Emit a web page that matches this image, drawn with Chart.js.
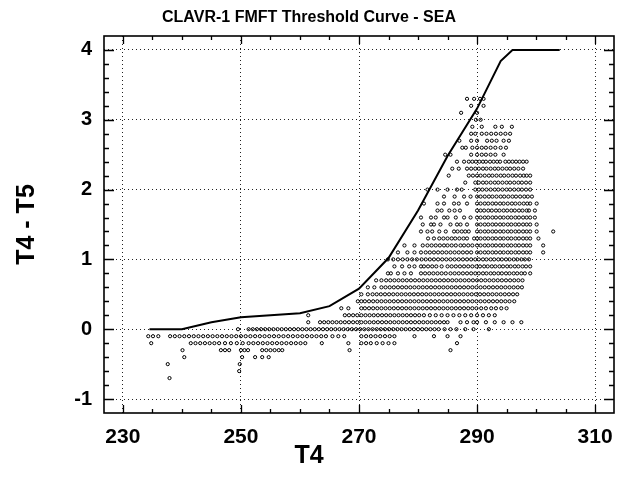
<!DOCTYPE html>
<html>
<head>
<meta charset="utf-8">
<script src="https://cdn.jsdelivr.net/npm/chart.js@4/dist/chart.umd.min.js"></script>
<style>
  html, body { margin: 0; padding: 0; background: #fff; }
  #c { display: block; }
</style>
</head>
<body>
<canvas id="c" width="619" height="493"></canvas>
<script>
// ---- Data ----
const titleText = "CLAVR-1 FMFT Threshold Curve - SEA";
const xTitle = "T4";
const yTitle = "T4 - T5";
const xTicks = [230, 250, 270, 290, 310];
const yTicks = [-1, 0, 1, 2, 3, 4];

// Threshold curve (T4, T4-T5)
const curveT4   = [234.5, 240, 245, 250, 255, 260, 265, 270, 275, 280, 285, 290, 294, 296, 304];
const curveDiff = [0, 0, 0.10, 0.17, 0.20, 0.23, 0.33, 0.58, 1.02, 1.70, 2.48, 3.16, 3.84, 4.0, 4.0];

// Scatter observations: T4-T5 levels (quantised at 0.1) and the T4 values seen on each level
const scatterLevels = [3.3, 3.2, 3.1, 3.0, 2.9, 2.8, 2.7, 2.6, 2.5, 2.4, 2.3, 2.2, 2.1, 2.0,
  1.9, 1.8, 1.7, 1.6, 1.5, 1.4, 1.3, 1.2, 1.1, 1.0, 0.9, 0.8, 0.7, 0.6, 0.5, 0.4, 0.3, 0.2, 0.1,
  0.0, -0.1, -0.2, -0.3, -0.4, -0.5, -0.6, -0.7];
const scatterT4 = [
  [288.3, 289.5, 290.5, 291.1],
  [289.0, 291.1],
  [287.3, 290.0],
  [289.8, 290.6],
  [289.2, 290.8, 293.1, 294.2, 295.9],
  [289.0, 289.7, 290.8, 291.6, 292.4, 293.2, 294.0, 294.8, 295.6],
  [287.0, 289.0, 290.0, 291.7, 292.5, 293.3, 294.5, 295.4],
  [287.5, 288.1, 289.2, 290.0, 290.8, 291.5, 292.3, 293.1, 294.0, 294.9],
  [284.6, 285.5, 289.0, 290.0, 290.8, 291.5, 292.3, 293.1, 294.5],
  [286.6, 287.8, 288.6, 289.2, 289.8, 290.4, 291.0, 291.5, 292.2, 292.8, 293.4, 293.9, 294.8, 295.4, 296.0, 296.6, 297.2, 297.8, 298.4],
  [285.8, 286.9, 288.3, 289.0, 289.7, 290.3, 291.0, 291.6, 292.3, 293.0, 293.6, 294.3, 295.0, 295.6, 296.3, 297.0, 297.8],
  [285.2, 288.6, 289.3, 290.0, 290.6, 291.3, 292.0, 292.6, 293.3, 294.0, 294.6, 295.3, 296.0, 296.6, 297.3, 297.9, 298.4, 299.0],
  [288.0, 289.7, 290.3, 291.0, 291.6, 292.3, 293.0, 293.6, 294.3, 295.0, 295.6, 296.3, 297.0, 297.6, 298.3, 299.0],
  [281.6, 283.3, 285.0, 286.6, 287.4, 289.7, 290.3, 290.9, 291.6, 292.3, 293.0, 293.6, 294.3, 295.0, 295.6, 296.3, 297.0, 297.6, 298.3, 299.0],
  [284.4, 286.2, 287.8, 288.9, 290.0, 290.6, 291.3, 292.0, 292.6, 293.3, 294.0, 294.6, 295.3, 296.0, 296.6, 297.3, 298.0, 298.6, 299.3],
  [281.0, 283.3, 284.4, 286.1, 286.9, 288.3, 290.0, 290.6, 291.3, 291.9, 292.6, 293.2, 293.9, 294.5, 295.2, 295.9, 296.5, 297.2, 297.9, 298.5, 299.0, 300.1],
  [283.3, 284.0, 285.3, 286.2, 287.1, 290.0, 290.6, 291.2, 291.9, 292.5, 293.2, 293.8, 294.5, 295.1, 295.8, 296.4, 297.1, 297.7, 298.4, 298.8, 299.8],
  [280.5, 282.2, 283.0, 284.4, 285.0, 286.4, 287.8, 288.9, 290.0, 290.6, 291.3, 291.9, 292.6, 293.2, 293.9, 294.5, 295.2, 295.8, 296.5, 297.1, 297.8, 298.4, 299.0, 299.8],
  [280.8, 282.2, 282.7, 283.8, 285.5, 286.6, 287.2, 288.3, 290.0, 290.6, 291.3, 291.9, 292.6, 293.2, 293.9, 294.5, 295.2, 295.8, 296.5, 297.1, 297.8, 298.4, 299.0, 300.1],
  [280.5, 281.6, 282.4, 283.6, 284.7, 286.1, 286.7, 287.4, 288.0, 288.6, 290.0, 290.6, 291.3, 291.9, 292.6, 293.2, 293.9, 294.5, 295.2, 295.8, 296.5, 297.1, 297.8, 298.4, 299.0, 300.1, 302.9],
  [281.7, 282.7, 283.6, 284.3, 285.0, 285.7, 286.3, 287.0, 287.7, 288.3, 289.5, 290.0, 290.6, 291.3, 291.9, 292.6, 293.2, 293.9, 294.5, 295.2, 295.8, 296.5, 297.1, 297.8, 298.4, 299.0, 300.4],
  [277.7, 279.4, 280.8, 281.6, 282.3, 283.0, 283.7, 284.4, 285.0, 285.7, 286.4, 287.2, 287.8, 288.5, 289.2, 290.0, 290.6, 291.3, 291.9, 292.6, 293.2, 293.9, 294.5, 295.2, 295.8, 296.5, 297.1, 297.8, 298.4, 299.0, 301.2],
  [276.6, 278.2, 279.4, 280.5, 281.3, 282.0, 282.7, 283.4, 284.1, 284.8, 285.5, 286.2, 286.9, 287.6, 288.3, 289.0, 290.0, 290.6, 291.3, 291.9, 292.6, 293.2, 293.9, 294.5, 295.2, 295.8, 296.5, 297.1, 297.8, 298.4, 299.0, 301.2],
  [274.9, 275.8, 276.6, 277.4, 278.2, 279.0, 279.8, 280.6, 281.3, 282.0, 282.7, 283.4, 284.1, 284.8, 285.5, 286.2, 286.9, 287.6, 288.3, 289.0, 289.7, 290.3, 291.0, 291.6, 292.3, 292.9, 293.6, 294.2, 294.9, 295.5, 296.2, 296.8, 297.5, 298.1, 298.8],
  [276.0, 277.3, 278.5, 279.4, 280.5, 281.0, 281.7, 282.4, 283.1, 284.0, 285.0, 285.7, 286.4, 287.1, 287.8, 288.5, 289.2, 289.9, 290.5, 291.2, 291.8, 292.5, 293.1, 293.8, 294.4, 295.1, 295.7, 296.4, 297.0, 297.7, 298.3, 299.0],
  [274.9, 275.4, 276.6, 277.7, 278.8, 280.5, 281.2, 281.9, 282.6, 283.3, 284.0, 284.7, 285.5, 286.2, 286.9, 287.6, 288.3, 289.0, 289.7, 290.3, 291.0, 291.6, 292.3, 292.9, 293.6, 294.2, 294.9, 295.5, 296.2, 296.8, 297.5, 298.1, 299.0],
  [272.9, 273.8, 274.6, 275.3, 276.0, 276.7, 277.4, 278.1, 278.8, 279.5, 280.2, 280.9, 281.6, 282.3, 283.0, 283.7, 284.4, 285.1, 285.8, 286.5, 287.2, 287.9, 288.6, 289.3, 290.0, 290.7, 291.4, 292.1, 292.8, 293.5, 294.2, 294.9, 295.6, 296.3, 297.0, 297.7],
  [271.5, 272.6, 273.8, 274.5, 275.2, 275.9, 276.6, 277.3, 278.0, 278.7, 279.4, 280.1, 280.8, 281.5, 282.2, 282.9, 283.6, 284.3, 285.0, 285.7, 286.4, 287.1, 287.8, 288.5, 289.2, 289.9, 290.6, 291.3, 292.0, 292.7, 293.4, 294.1, 294.8, 295.5, 296.2, 296.9, 297.6],
  [270.4, 271.5, 272.3, 273.0, 273.7, 274.4, 275.1, 275.8, 276.5, 277.2, 277.9, 278.6, 279.3, 280.0, 280.7, 281.4, 282.1, 282.8, 283.5, 284.2, 284.9, 285.6, 286.3, 287.0, 287.7, 288.4, 289.1, 289.8, 290.5, 291.2, 291.9, 292.6, 293.3, 294.0, 294.7, 295.4, 296.1, 296.8],
  [269.8, 270.4, 271.0, 271.7, 272.4, 273.1, 273.8, 274.5, 275.2, 275.9, 276.6, 277.3, 278.0, 278.7, 279.4, 280.1, 280.8, 281.5, 282.2, 282.9, 283.6, 284.3, 285.0, 285.7, 286.4, 287.1, 287.8, 288.5, 289.2, 289.9, 290.6, 291.3, 292.0, 292.7, 293.4, 294.1, 294.8, 295.5, 296.3],
  [267.0, 268.2, 270.4, 271.0, 271.7, 272.4, 273.1, 273.8, 274.5, 275.2, 275.9, 276.6, 277.3, 278.0, 278.7, 279.4, 280.1, 280.8, 281.5, 282.2, 282.9, 283.6, 284.3, 285.0, 285.7, 286.4, 287.1, 287.8, 288.5, 289.2, 289.9, 290.7, 291.5, 292.4, 293.2, 294.1, 295.0],
  [261.4, 267.6, 268.3, 269.0, 269.7, 270.4, 271.1, 271.8, 272.5, 273.2, 273.9, 274.6, 275.3, 276.0, 276.7, 277.4, 278.1, 278.8, 279.5, 280.2, 281.0, 282.0, 283.0, 284.0, 285.0, 286.0, 287.0, 288.0, 289.0, 290.0, 291.0, 292.0, 293.0],
  [261.4, 263.4, 264.1, 264.8, 265.5, 266.2, 266.9, 267.6, 268.3, 269.0, 269.7, 270.4, 271.1, 271.8, 272.5, 273.2, 273.9, 274.6, 275.3, 276.0, 276.7, 277.4, 278.1, 278.8, 279.5, 280.2, 280.9, 281.6, 282.3, 283.0, 283.7, 284.4, 285.0, 287.2, 288.3, 289.4, 290.0, 291.5, 293.0, 294.5, 296.0, 297.5],
  [249.5, 251.3, 252.0, 252.7, 253.4, 254.1, 254.8, 255.5, 256.2, 256.9, 257.6, 258.3, 259.0, 259.7, 260.4, 261.1, 261.8, 262.5, 263.2, 263.9, 264.6, 265.3, 266.0, 266.7, 267.4, 268.1, 268.8, 269.5, 270.2, 270.9, 271.6, 272.3, 273.0, 273.7, 274.4, 275.1, 275.8, 276.5, 277.2, 277.9, 278.6, 279.3, 280.0, 280.7, 281.4, 282.1, 282.8, 283.5, 284.5, 285.5, 286.5, 288.0, 289.4, 292.0],
  [234.3, 235.1, 236.0, 238.0, 238.8, 239.6, 240.4, 241.2, 242.0, 242.8, 243.6, 244.4, 245.2, 246.0, 246.8, 247.6, 248.4, 249.2, 250.0, 250.8, 251.6, 252.4, 253.2, 254.0, 254.8, 255.6, 256.4, 257.2, 258.0, 258.8, 259.6, 260.4, 261.2, 262.0, 262.8, 263.6, 264.4, 265.5, 266.5, 267.5, 270.4, 271.2, 272.0, 272.8, 273.6, 274.4, 275.2, 276.0, 279.4, 282.7, 285.0, 287.2],
  [234.8, 241.5, 242.3, 243.1, 243.9, 244.7, 245.5, 246.3, 247.3, 248.3, 249.3, 250.3, 251.3, 252.1, 252.9, 253.7, 254.5, 255.3, 256.1, 256.9, 257.7, 258.5, 259.3, 260.1, 260.9, 263.7, 268.2, 270.4, 271.2, 272.0, 273.0, 274.0, 275.0, 276.0, 286.6],
  [240.1, 246.6, 247.3, 248.0, 250.0, 250.6, 251.2, 253.6, 254.3, 255.0, 255.7, 256.4, 257.0, 268.4, 285.5],
  [240.4, 250.2, 252.4, 253.6, 254.7],
  [237.6, 249.8],
  [249.7],
  [237.9]
];

// ---- Build chart ----
const scatterPoints = [];
scatterLevels.forEach((lev, i) => {
  scatterT4[i].forEach(t => scatterPoints.push({ x: t, y: lev }));
});
const curvePoints = curveT4.map((t, i) => ({ x: t, y: curveDiff[i] }));

const FONT = "'Liberation Sans', Arial, Helvetica, sans-serif";

const framePlugin = {
  id: 'frameTicks',
  afterDraw(chart) {
    const { ctx, chartArea: { left, right, top, bottom }, scales: { x, y } } = chart;
    ctx.save();
    ctx.strokeStyle = '#000';
    ctx.lineWidth = 1.6;
    ctx.strokeRect(left, top, right - left, bottom - top);
    ctx.lineWidth = 1.3;
    ctx.beginPath();
    for (let v = 230; v <= 310; v += 5) {
      const px = Math.round(x.getPixelForValue(v)) + 0.5;
      const len = (v % 20 === 10) ? 8 : 4;
      ctx.moveTo(px, bottom); ctx.lineTo(px, bottom - len);
      ctx.moveTo(px, top); ctx.lineTo(px, top + len);
    }
    for (let k = -5; k <= 20; k++) {
      const v = k * 0.2;
      const py = Math.round(y.getPixelForValue(v)) + 0.5;
      const len = (k % 5 === 0) ? 10 : 5;
      ctx.moveTo(left, py); ctx.lineTo(left + len, py);
      ctx.moveTo(right, py); ctx.lineTo(right - len, py);
    }
    ctx.stroke();
    ctx.restore();
  }
};

new Chart(document.getElementById('c'), {
  type: 'scatter',
  data: {
    datasets: [
      {
        label: 'Observations',
        data: scatterPoints,
        pointStyle: 'circle',
        pointRadius: 1.6,
        pointBorderWidth: 1,
        pointBorderColor: '#000',
        pointBackgroundColor: 'rgba(255,255,255,0)',
        showLine: false,
        order: 2
      },
      {
        label: 'Threshold',
        data: curvePoints,
        showLine: true,
        borderColor: '#000',
        borderWidth: 2,
        pointRadius: 0,
        tension: 0,
        order: 1
      }
    ]
  },
  options: {
    responsive: false,
    animation: false,
    devicePixelRatio: 1,
    layout: { padding: { top: 0, right: 1, bottom: 0, left: 0 } },
    plugins: {
      legend: { display: false },
      tooltip: { enabled: false },
      title: {
        display: true,
        text: titleText,
        color: '#000',
        font: { family: FONT, size: 16, weight: 'bold', lineHeight: 1.2 },
        padding: { top: 8.4, bottom: 8.4 }
      },
      subtitle: {
        display: true,
        position: 'bottom',
        text: xTitle,
        color: '#000',
        font: { family: FONT, size: 25, weight: 'bold', lineHeight: 0.8 },
        padding: { top: 0, bottom: 27 }
      }
    },
    scales: {
      x: {
        type: 'linear',
        min: 226.8,
        max: 313.2,
        afterBuildTicks: (s) => { s.ticks = xTicks.map(v => ({ value: v })); },
        afterFit: (s) => { s.height = 33; s.paddingLeft = 0; s.paddingRight = 0; },
        ticks: {
          color: '#000',
          padding: 13.5,
          maxRotation: 0,
          font: { family: FONT, size: 21, weight: 'bold', lineHeight: 1 },
          callback: (v) => String(v)
        },
        grid: { color: '#222', lineWidth: 1, drawTicks: false },
        border: { display: false, dash: [1, 3] },
        title: { display: false }
      },
      y: {
        type: 'linear',
        min: -1.2,
        max: 4.2,
        afterBuildTicks: (s) => { s.ticks = yTicks.map(v => ({ value: v })); },
        afterFit: (s) => { s.width = 104; s.paddingTop = 0; s.paddingBottom = 0; },
        ticks: {
          color: '#000',
          padding: 12,
          font: { family: FONT, size: 20, weight: 'bold' },
          callback: (v) => String(v)
        },
        grid: { color: '#222', lineWidth: 1, drawTicks: false },
        border: { display: false, dash: [1, 3] },
        title: {
          display: true,
          text: yTitle,
          color: '#000',
          font: { family: FONT, size: 25, weight: 'bold', lineHeight: 1.2 },
          padding: { top: 12, bottom: 0 }
        }
      }
    }
  },
  plugins: [framePlugin]
});
</script>
</body>
</html>
